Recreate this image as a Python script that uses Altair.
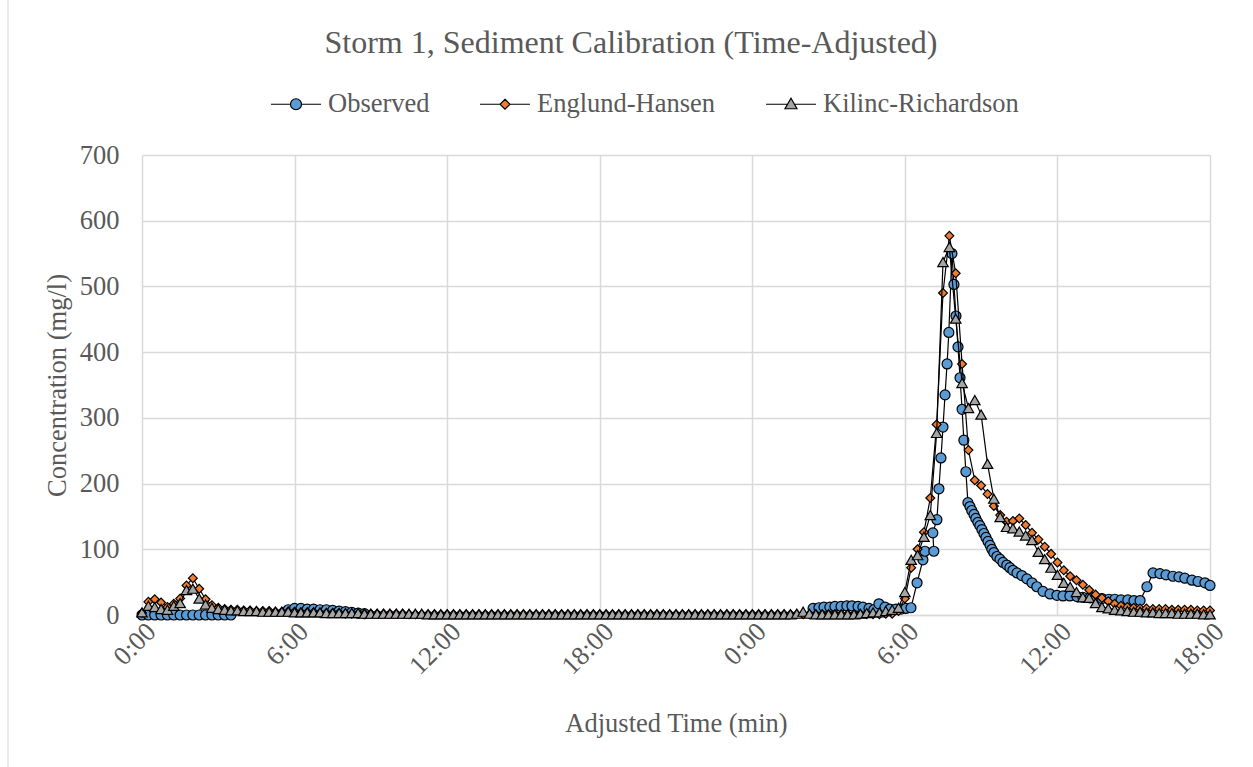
import altair as alt
import pandas as pd

# ---------------- data ----------------
series_names = ["Observed", "Englund-Hansen", "Kilinc-Richardson"]
fill_colors = ["#5B9BD5", "#ED7D31", "#A5A5A5"]

# Observed concentrations (adjusted time in hours, mg/l)
obs_time = [
    0.0, 0.25, 0.5, 0.75, 1.0, 1.25, 1.5, 1.75, 2.0, 2.25, 2.5, 2.75, 3.0, 3.25, 3.5,
    5.75, 6.0, 6.25, 6.5, 6.75, 7.0, 7.25, 7.5, 7.75, 8.0, 8.25, 8.5, 8.75,
    26.39, 26.62, 26.82, 27.05, 27.25, 27.49, 27.72, 27.92, 28.16, 28.35, 28.59, 28.78,
    28.98, 29.22, 29.41, 29.65, 29.85, 30.04, 30.24,
    30.48, 30.71, 30.79, 31.14, 31.10, 31.26, 31.34, 31.42, 31.50, 31.58, 31.66, 31.73,
    31.85, 31.93, 32.01, 32.09, 32.17, 32.25, 32.32, 32.40, 32.48,
    32.56, 32.63, 32.72, 32.79, 32.87, 32.95, 33.03, 33.11, 33.19, 33.27, 33.35, 33.42, 33.50,
    33.62, 33.74, 33.86, 34.01, 34.13, 34.25, 34.41, 34.60, 34.80, 35.00,
    35.19, 35.43, 35.71, 35.98, 36.22, 36.49, 36.77, 37.00, 37.28, 37.51,
    37.75, 38.03, 38.26, 38.50, 38.77, 39.01, 39.25,
    39.52, 39.76, 40.03, 40.27, 40.54, 40.78, 41.01, 41.29, 41.53, 41.80, 42.0,
]
obs_value = [
    0, 0, 0, 0, 0, 0, 0, 0, 0, 0, 0, 0, 0, 0, 0,
    8, 10, 10, 9, 9, 8, 8, 7, 6, 5, 4, 3, 2,
    10, 11, 12, 12, 13, 13, 14, 14, 13, 12, 10, 8,
    17, 12, 9, 9, 9, 10, 11,
    49, 84, 97, 97, 125, 145, 192, 239, 286, 335, 382, 430,
    550, 503, 455, 408, 361, 313, 266, 218, 171,
    165, 159, 153, 147, 141, 136, 130, 124, 118, 112, 106, 100, 95,
    89, 85, 80, 76, 72, 68, 64, 60, 55, 49,
    43, 36, 32, 30, 29, 29, 28, 27, 26, 25,
    25, 24, 24, 23, 23, 22, 22,
    43, 64, 63, 61, 59, 58, 56, 53, 51, 49, 45,
]

# Modelled concentrations, one value every 15 minutes from 0:00
model_step_hours = 0.25
englund_hansen = [
    3, 20, 24, 19, 12, 17, 25, 45, 56, 40,
    24, 15, 11, 9, 8, 8, 7, 7, 6, 6,
    6, 5, 5, 5, 5, 4, 4, 4, 3, 3,
    3, 3, 2, 2, 2, 2, 2, 2, 2, 2,
    2, 2, 1, 1, 1, 1, 1, 1, 1, 1,
    1, 1, 1, 1, 1, 1, 1, 1, 1, 1,
    1, 1, 1, 1, 1, 1, 1, 1, 1, 1,
    1, 1, 1, 1, 1, 1, 1, 1, 1, 1,
    1, 1, 1, 1, 1, 1, 1, 1, 1, 1,
    1, 1, 1, 1, 1, 1, 1, 1, 1, 1,
    1, 1, 1, 1, 1, 1, 1, 1, 1, 1,
    1, 1, 1, 1, 1, 1, 1, 2,
    2, 6,
    25, 72, 100, 126, 178, 290, 490, 577, 520, 382,
    251, 205, 197, 184, 166, 152, 142, 143, 147, 137,
    125, 115, 104, 93, 80, 68, 59, 53, 46, 38,
    31, 26, 21, 17, 14, 12, 11, 10, 10, 9,
    9, 9, 8, 8, 8, 8, 7, 7, 7,
]
kilinc_richardson = [
    4, 14, 12, 9, 8, 14, 18, 38, 40, 25,
    16, 11, 9, 8, 7, 7, 6, 6, 6, 5,
    5, 5, 5, 5, 4, 4, 4, 4, 4, 3,
    3, 3, 3, 3, 3, 2, 2, 2, 2, 2,
    2, 2, 2, 2, 2, 1, 1, 1, 1, 1,
    1, 1, 1, 1, 1, 1, 1, 1, 1, 1,
    1, 1, 1, 1, 1, 1, 1, 1, 1, 1,
    1, 1, 1, 1, 1, 1, 1, 1, 1, 1,
    1, 1, 1, 1, 1, 1, 1, 1, 1, 1,
    1, 1, 1, 1, 1, 1, 1, 1, 1, 1,
    1, 1, 1, 2, 5, 2, 1, 1, 1, 1,
    1, 1, 1, 2, 3, 4, 4, 6, 8, 11,
    35, 84, 91, 119, 152, 277, 537, 560, 451, 353,
    315, 327, 305, 230, 177, 149, 134, 132, 127, 121,
    114, 96, 85, 72, 61, 49, 43, 35, 27, 26,
    18, 12, 10, 8, 7, 6, 5, 5, 4, 4,
    3, 3, 3, 2, 2, 2, 2, 1, 1,
]

# ---------------- long table ----------------
rows = []


def add_series(name, times, values):
    seg, prev = 0, None
    for k, (t, v) in enumerate(zip(times, values)):
        if prev is not None and t - prev > 1.0:
            seg += 1  # break the connecting line across missing records
        rows.append({"series": name, "t": t, "value": v, "k": k, "seg": seg})
        prev = t


model_time = [i * model_step_hours for i in range(len(englund_hansen))]
add_series("Observed", obs_time, obs_value)
add_series("Englund-Hansen", model_time, englund_hansen)
add_series("Kilinc-Richardson", model_time, kilinc_richardson)
df = pd.DataFrame(rows)

FONT = "Liberation Serif"
TEXT = "#595959"
GRID = "#d9d9d9"

x_enc = alt.X(
    "t:Q",
    scale=alt.Scale(domain=[0, 42], nice=False, zero=False),
    axis=alt.Axis(
        values=list(range(0, 43, 6)),
        labelExpr="(datum.value % 24) + ':00'",
        labelAngle=315,
        labelAlign="right",
        labelBaseline="top",
        labelPadding=3,
        ticks=False,
        domain=True,
        domainColor=GRID,
        domainWidth=1.5,
        title="Adjusted Time (min)",
        titlePadding=31,
    ),
)
y_enc = alt.Y(
    "value:Q",
    scale=alt.Scale(domain=[0, 700], nice=False),
    axis=alt.Axis(
        values=list(range(0, 701, 100)),
        ticks=False,
        domain=False,
        labelPadding=23,
        title="Concentration (mg/l)",
        titlePadding=8,
    ),
)

marker_styles = {
    "Observed": ("circle", 100),
    "Englund-Hansen": ("diamond", 78),
    "Kilinc-Richardson": ("triangle-up", 110),
}

layers = []

# thin frame line on the left edge of the chart area
frame = alt.Chart(pd.DataFrame({"a": [0]})).mark_rule(color=GRID, strokeWidth=1).encode(
    x=alt.value(-134), y=alt.value(-155), y2=alt.value(612)
)
layers.append(frame)

for name, color in zip(series_names, fill_colors):
    shape, size = marker_styles[name]
    base = alt.Chart(df).transform_filter(alt.datum.series == name)
    line = base.mark_line(color="black", strokeWidth=1.2).encode(
        x=x_enc, y=y_enc, detail="seg:N", order="k:Q"
    )
    pts = base.mark_point(
        filled=True, shape=shape, size=size, fill=color, stroke="black",
        strokeWidth=1.2, opacity=1
    ).encode(x=x_enc, y=y_enc)
    layers += [line, pts]

# legend symbols: line segment with the marker in its middle
legend_paths = [
    "M-1,0L-0.22,0M0.22,0L1,0M-0.22,0A0.22,0.22,0,1,1,0.22,0A0.22,0.22,0,1,1,-0.22,0Z",
    "M-1,0L-0.2,0M0.2,0L1,0M0,-0.2L0.2,0L0,0.2L-0.2,0Z",
    "M-1,0L-0.14,0M0.14,0L1,0M0,-0.24L0.24,0.18L-0.24,0.18Z",
]
legend_spec = alt.Legend(
    title=None,
    orient="none",
    legendX=128,
    legendY=-77,
    direction="horizontal",
    symbolSize=2500,
    symbolStrokeWidth=1.2,
    labelFont=FONT,
    labelFontSize=26.5,
    labelColor=TEXT,
    labelOffset=6,
    labelLimit=400,
    columnPadding=47,
)
legend_layer = alt.Chart(df).transform_filter("datum.value < -1").mark_point(
    filled=True, strokeWidth=1.2, opacity=1
).encode(
    x=x_enc,
    y=y_enc,
    shape=alt.Shape("series:N", scale=alt.Scale(domain=series_names, range=legend_paths), legend=legend_spec),
    fill=alt.Fill("series:N", scale=alt.Scale(domain=series_names, range=fill_colors), legend=legend_spec),
    stroke=alt.Stroke("series:N", scale=alt.Scale(domain=series_names, range=["black", "black", "black"]), legend=legend_spec),
)
layers.append(legend_layer)

chart = alt.layer(*layers).properties(
    width=1068,
    height=460,
    background="white",
    autosize=alt.AutoSizeParams(type="none"),
    padding={"left": 142, "top": 155, "right": 43, "bottom": 152},
    title=alt.Title(
        "Storm 1, Sediment Calibration (Time-Adjusted)",
        font=FONT, fontSize=32, fontWeight="normal", color=TEXT,
        anchor="middle", offset=-60, dx=-45,
    ),
).configure_view(stroke=None).configure_axis(
    grid=True,
    gridColor=GRID,
    gridWidth=1.5,
    labelFont=FONT,
    labelFontSize=26.5,
    labelColor=TEXT,
    titleFont=FONT,
    titleFontSize=26.5,
    titleColor=TEXT,
    titleFontWeight="normal",
)

chart.save("out.html", embed_options={"renderer": "svg", "actions": False})
